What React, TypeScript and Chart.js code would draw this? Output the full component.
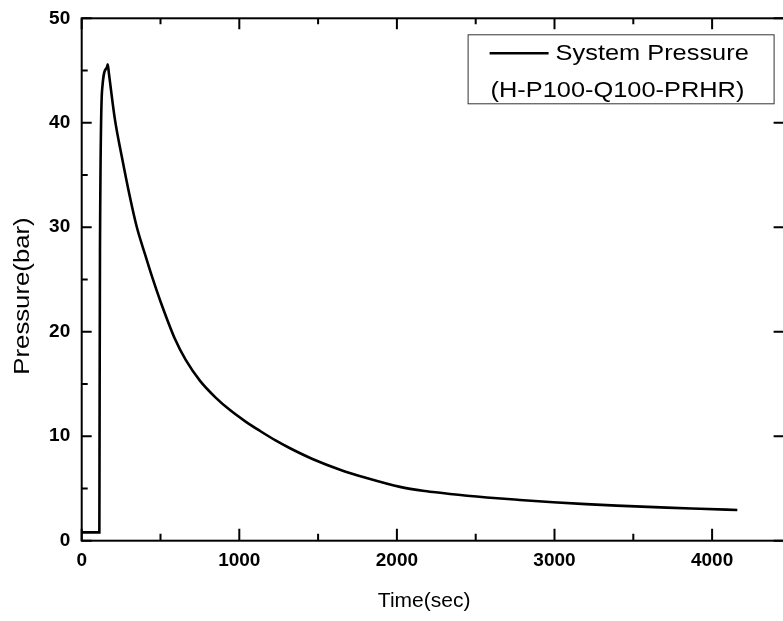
import React, { useEffect, useRef } from "react";
import { Chart, registerables } from "chart.js";

Chart.register(...registerables);

// ---- data ----
const timeSec = [
  0, 112, 113, 116, 131, 160, 165, 172, 211, 254, 306, 350, 402, 450, 500, 592,
  660, 751, 850, 941, 1040, 1132, 1230, 1322, 1468, 1639, 1808, 2020, 2180, 2337,
  2570, 2781, 2992, 3200, 3395, 3712, 3923, 4160,
];
const pressureBar = [
  0.8, 0.8, 8, 27.8, 43.4, 45.3, 45.6, 44.8, 40.3, 36.8, 32.9, 30.0, 27.4, 25.1,
  22.9, 19.3, 17.3, 15.3, 13.7, 12.5, 11.4, 10.5, 9.6, 8.85, 7.8, 6.8, 6.0, 5.15,
  4.75, 4.47, 4.14, 3.9, 3.68, 3.5, 3.36, 3.17, 3.06, 2.94,
];
const xTickValues = [0, 1000, 2000, 3000, 4000];
const xMinorTicks = [500, 1500, 2500, 3500];
const yTickValues = [0, 10, 20, 30, 40, 50];
const yMinorTicks = [5, 15, 25, 35, 45];
const legendLines = ["System Pressure", "(H-P100-Q100-PRHR)"];
const xTitle = "Time(sec)";
const yTitle = "Pressure(bar)";
const X_MIN = 0;
const X_MAX = 4460;
const Y_MIN = 0;
const Y_MAX = 50;

const CANVAS_W = 800;
const CANVAS_H = 621;
const FONT = '"Liberation Sans", Arial, sans-serif';

const framePlugin = {
  id: "originFrame",
  afterDatasetsDraw(chart: any) {
    const { ctx, chartArea, scales } = chart;
    const { left, right, top, bottom } = chartArea;
    const x = scales.x;
    const y = scales.y;
    ctx.save();
    ctx.strokeStyle = "#000";
    ctx.lineWidth = 2;
    ctx.strokeRect(left, top, right - left, bottom - top);
    ctx.beginPath();
    xTickValues.forEach((v) => {
      const px = x.getPixelForValue(v);
      ctx.moveTo(px, bottom);
      ctx.lineTo(px, bottom - 12);
      ctx.moveTo(px, top);
      ctx.lineTo(px, top + 11);
    });
    xMinorTicks.forEach((v) => {
      const px = x.getPixelForValue(v);
      ctx.moveTo(px, bottom);
      ctx.lineTo(px, bottom - 7);
      ctx.moveTo(px, top);
      ctx.lineTo(px, top + 6);
    });
    yTickValues.forEach((v) => {
      const py = y.getPixelForValue(v);
      ctx.moveTo(left, py);
      ctx.lineTo(left + 10, py);
      ctx.moveTo(right, py);
      ctx.lineTo(right - 11, py);
    });
    yMinorTicks.forEach((v) => {
      const py = y.getPixelForValue(v);
      ctx.moveTo(left, py);
      ctx.lineTo(left + 6, py);
    });
    ctx.stroke();

    // axis titles
    ctx.fillStyle = "#000";
    ctx.textAlign = "center";
    ctx.textBaseline = "middle";
    ctx.font = `21px ${FONT}`;
    ctx.fillText(xTitle, (left + right) / 2 - 9, 601);
    ctx.save();
    ctx.translate(22.5, (top + bottom) / 2 + 16.5);
    ctx.rotate(-Math.PI / 2);
    ctx.scale(1.17, 1);
    ctx.font = `22px ${FONT}`;
    ctx.fillText(yTitle, 0, 0);
    ctx.restore();

    // legend box
    const bx = right - 317;
    const by = top + 16;
    const bw = 306;
    const bh = 69;
    ctx.lineWidth = 1;
    ctx.strokeStyle = "#333";
    ctx.strokeRect(bx + 0.5, by + 0.5, bw, bh);
    ctx.lineWidth = 2.5;
    ctx.strokeStyle = "#000";
    ctx.beginPath();
    ctx.moveTo(bx + 22, by + 19);
    ctx.lineTo(bx + 81, by + 19);
    ctx.stroke();
    ctx.fillStyle = "#000";
    ctx.font = `21.5px ${FONT}`;
    ctx.textBaseline = "alphabetic";
    ctx.textAlign = "left";
    ctx.save();
    ctx.translate(bx + 88, by + 26);
    ctx.scale(1.18, 1);
    ctx.fillText(legendLines[0], 0, 0);
    ctx.restore();
    ctx.save();
    ctx.translate(bx + 23, by + 63);
    ctx.scale(1.18, 1);
    ctx.fillText(legendLines[1], 0, 0);
    ctx.restore();
    ctx.restore();
  },
};

export default function App() {
  const ref = useRef<HTMLCanvasElement | null>(null);
  useEffect(() => {
    if (!ref.current) return;
    const chart = new Chart(ref.current, {
      type: "line",
      data: {
        datasets: [
          {
            label: legendLines.join(" "),
            data: timeSec.map((t, i) => ({ x: t, y: pressureBar[i] })),
            borderColor: "#000",
            borderWidth: 2.6,
            pointRadius: 0,
            cubicInterpolationMode: "monotone",
            fill: false,
          },
        ],
      },
      options: {
        animation: false,
        responsive: false,
        devicePixelRatio: 1,
        layout: { padding: { left: 0, top: 18.3, right: CANVAS_W - 784.6, bottom: 0 } },
        plugins: { legend: { display: false }, tooltip: { enabled: false } },
        scales: {
          x: {
            type: "linear",
            min: X_MIN,
            max: X_MAX,
            grid: { display: false, drawTicks: false },
            border: { display: false },
            afterFit: (s: any) => {
              s.height = CANVAS_H - 540.7;
              s.paddingLeft = 0;
              s.paddingRight = 0;
              s.paddingTop = 0;
              s.paddingBottom = 0;
            },
            afterBuildTicks: (s: any) => {
              s.ticks = xTickValues.map((v) => ({ value: v }));
            },
            ticks: {
              padding: 9,
              color: "#000",
              font: { family: FONT, size: 19, weight: "bold" },
              callback: (v: any) => String(v),
              maxRotation: 0,
            },
            title: { display: false, text: xTitle },
          },
          y: {
            type: "linear",
            min: Y_MIN,
            max: Y_MAX,
            grid: { display: false, drawTicks: false },
            border: { display: false },
            afterFit: (s: any) => {
              s.width = 81.7;
              s.paddingLeft = 0;
              s.paddingRight = 0;
              s.paddingTop = 0;
              s.paddingBottom = 0;
            },
            afterBuildTicks: (s: any) => {
              s.ticks = yTickValues.map((v) => ({ value: v }));
            },
            ticks: {
              padding: 11.5,
              color: "#000",
              font: { family: FONT, size: 19, weight: "bold" },
              callback: (v: any) => String(v),
            },
            title: { display: false, text: yTitle },
          },
        },
      },
      plugins: [framePlugin],
    });
    return () => chart.destroy();
  }, []);
  return (
    <div
      style={{
        position: "absolute",
        left: 0,
        top: 0,
        width: 783,
        height: CANVAS_H,
        overflow: "hidden",
        background: "#fff",
      }}
    >
      <canvas ref={ref} width={CANVAS_W} height={CANVAS_H} style={{ display: "block" }} />
    </div>
  );
}
